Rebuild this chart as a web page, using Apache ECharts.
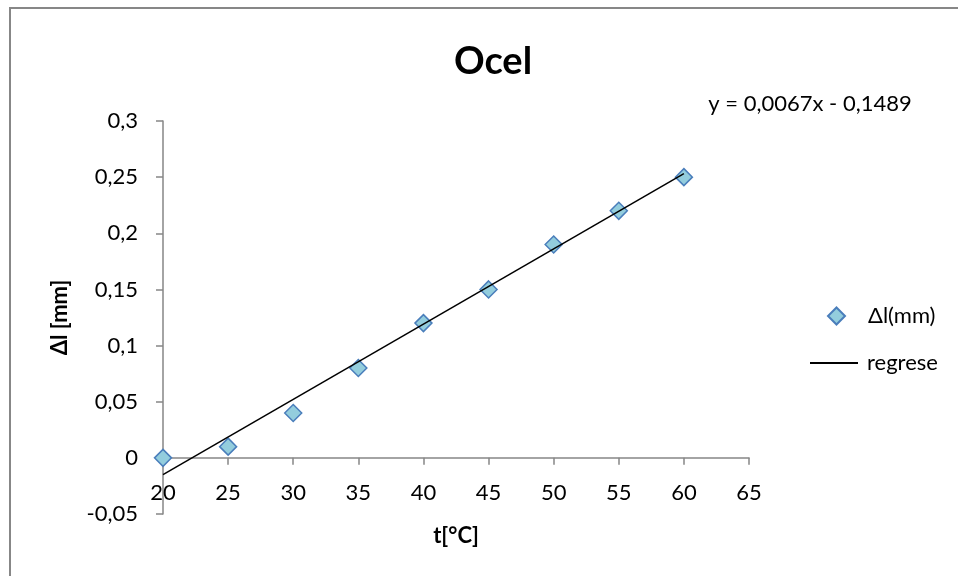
<!DOCTYPE html>
<html>
<head>
<meta charset="utf-8">
<script src="https://cdn.jsdelivr.net/npm/echarts@6/dist/echarts.min.js"></script>
<style>html,body{margin:0;padding:0;background:#fff}#c{width:958px;height:576px}</style>
</head>
<body>
<div id="c"></div>
<script>
const titleText = 'Ocel';
const equationText = 'y = 0,0067x - 0,1489';
const xName = 't[°C]';
const yName = 'Δl [mm]';
const scatterName = 'Δl(mm)';
const lineName = 'regrese';
const temps = [20, 25, 30, 35, 40, 45, 50, 55, 60];
const elongation = [0, 0.01, 0.04, 0.08, 0.12, 0.15, 0.19, 0.22, 0.25];
const regressionX = [20, 60];
const regressionY = [-0.0149, 0.2531];

const FONT = 'Lato';
const fmt = v => String(parseFloat(Number(v).toFixed(4))).replace('.', ',');

const GRID_TOP = 121, GRID_BOTTOM = 62, H = 576;
const Y_MIN = -0.05, Y_MAX = 0.3;
// shift the x axis up so it sits on y = 0
const zeroOffset = -((0 - Y_MIN) / (Y_MAX - Y_MIN)) * (H - GRID_TOP - GRID_BOTTOM);

const chart = echarts.init(document.getElementById('c'));
chart.setOption({
  backgroundColor: '#fff',
  animation: false,
  textStyle: { fontFamily: FONT },
  title: {
    text: titleText,
    left: 488, top: 38, textAlign: 'center',
    textStyle: { fontFamily: FONT, fontSize: 38, fontWeight: 'bold', color: '#000' }
  },
  graphic: [
    { type: 'rect', shape: { x: 10, y: 8, width: 1000, height: 1000 },
      style: { fill: 'none', stroke: '#878787', lineWidth: 2 }, silent: true },
    { type: 'text', x: 810, y: 104,
      style: { text: equationText, fontFamily: FONT, fontSize: 22, fill: '#000',
               align: 'center', verticalAlign: 'middle' } }
  ],
  legend: [
    { data: [scatterName], left: 822, top: 300, icon: 'diamond', itemWidth: 17, itemHeight: 17,
      textStyle: { fontFamily: FONT, fontSize: 22, color: '#000', padding: [0, 0, 0, 18] } },
    { data: [lineName], left: 805, top: 347, icon: 'rect', itemWidth: 48, itemHeight: 2,
      itemStyle: { color: '#000', borderWidth: 0 },
      textStyle: { fontFamily: FONT, fontSize: 22, color: '#000', padding: [0, 0, 0, 4] } }
  ],
  grid: { left: 163, right: 209, top: GRID_TOP, bottom: GRID_BOTTOM, containLabel: false, outerBoundsMode: 'none' },
  xAxis: {
    type: 'value', min: 20, max: 65, interval: 5,
    offset: zeroOffset,
    name: xName, nameLocation: 'middle', nameGap: 67,
    nameTextStyle: { fontFamily: FONT, fontSize: 22, fontWeight: 'bold', color: '#000' },
    axisLine: { onZero: false, lineStyle: { color: '#868686', width: 1.5 } },
    axisTick: { show: true, length: 7, lineStyle: { color: '#868686', width: 1.5 } },
    axisLabel: { fontFamily: FONT, fontSize: 22, color: '#000', margin: 24, formatter: fmt },
    splitLine: { show: false }
  },
  yAxis: {
    type: 'value', min: Y_MIN, max: Y_MAX, interval: 0.05,
    name: yName, nameLocation: 'middle', nameGap: 92, nameRotate: 90,
    nameTextStyle: { fontFamily: FONT, fontSize: 22, fontWeight: 'bold', color: '#000' },
    axisLine: { show: true, onZero: false, lineStyle: { color: '#868686', width: 1.5 } },
    axisTick: { show: true, length: 7, lineStyle: { color: '#868686', width: 1.5 } },
    axisLabel: { fontFamily: FONT, fontSize: 22, color: '#000', margin: 25, formatter: fmt },
    splitLine: { show: false }
  },
  series: [
    { name: scatterName, type: 'scatter', z: 2, symbol: 'diamond', symbolSize: 17,
      itemStyle: { color: '#93CDDD', borderColor: '#4A7EBB', borderWidth: 1.5, opacity: 1 },
      data: temps.map((t, i) => [t, elongation[i]]) },
    { name: lineName, type: 'line', z: 3, symbol: 'none', showSymbol: false,
      lineStyle: { color: '#000', width: 1.5 }, itemStyle: { color: '#000' },
      data: regressionX.map((x, i) => [x, regressionY[i]]) }
  ]
});
</script>
</body>
</html>
